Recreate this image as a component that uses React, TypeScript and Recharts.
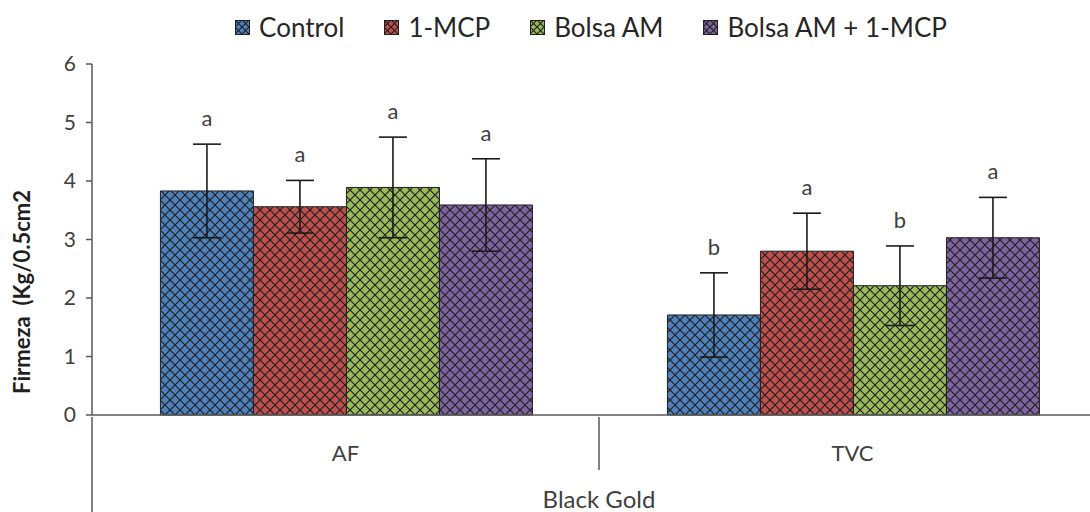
import React from "react";
import { BarChart, Bar, XAxis, YAxis, ErrorBar, LabelList } from "recharts";

const categories = ["AF", "TVC"];
const seriesNames = ["Control", "1-MCP", "Bolsa AM", "Bolsa AM + 1-MCP"];
const seriesColors = ["#4F81BD", "#C0504D", "#9BBB59", "#8064A2"];

const controlValues = [3.83, 1.71];
const mcpValues = [3.56, 2.8];
const bolsaValues = [3.89, 2.21];
const bolsaMcpValues = [3.59, 3.03];

const controlErrors = [0.8, 0.72];
const mcpErrors = [0.45, 0.65];
const bolsaErrors = [0.86, 0.68];
const bolsaMcpErrors = [0.79, 0.69];

const controlLetters = ["a", "b"];
const mcpLetters = ["a", "a"];
const bolsaLetters = ["a", "b"];
const bolsaMcpLetters = ["a", "a"];

const yTicks = [0, 1, 2, 3, 4, 5, 6];
const groupLabel = "Black Gold";
const yLabel = "Firmeza  (Kg/0.5cm2";

const CHART_W = 1106;
const CHART_H = 512;
const MARGIN = { top: 64, right: 0, left: 30, bottom: 0 };
const Y_AXIS_W = 62;
const X_AXIS_H = 97;
const PLOT_W = CHART_W - MARGIN.left - Y_AXIS_W - MARGIN.right;
const PLOT_H = CHART_H - MARGIN.top - MARGIN.bottom - X_AXIS_H;
const Y_MAX = 6;
const BAND = PLOT_W / categories.length;

const FONT = "Lato, 'Open Sans', sans-serif";
const TEXT = "#404040";
const AXIS = "#595959";

const allValues = [controlValues, mcpValues, bolsaValues, bolsaMcpValues];
const allErrors = [controlErrors, mcpErrors, bolsaErrors, bolsaMcpErrors];
const allLetters = [controlLetters, mcpLetters, bolsaLetters, bolsaMcpLetters];

const data = categories.map((name, i) => {
  const row: Record<string, string | number> = { name };
  allValues.forEach((vals, s) => {
    row[`v${s}`] = vals[i];
    row[`e${s}`] = allErrors[s][i];
    row[`l${s}`] = allLetters[s][i];
  });
  return row;
});

const Hatch = ({ id, color, size = 10 }: { id: string; color: string; size?: number }) => (
  <pattern id={id} width={size} height={size} patternUnits="userSpaceOnUse">
    <rect width={size} height={size} fill={color} />
    <path d={`M0,0 L${size},${size} M${size},0 L0,${size}`} stroke="#1f1f1f" strokeWidth={1.2} />
  </pattern>
);

const XTick = (props: any) => {
  const { x, y, payload, index } = props;
  return (
    <g>
      <text x={x} y={y + 44} textAnchor="middle" fill={TEXT} fontSize={22} fontFamily={FONT}>
        {payload.value}
      </text>
      {index === 0 && (
        <>
          <line x1={x + BAND / 2} x2={x + BAND / 2} y1={y} y2={y + 53} stroke={AXIS} strokeWidth={1.5} />
          <line x1={x - BAND / 2} x2={x - BAND / 2} y1={y} y2={CHART_H} stroke={AXIS} strokeWidth={1.5} />
        </>
      )}
    </g>
  );
};

const makeLetter = (s: number) => (props: any) => {
  const { x, y, width, value, index } = props;
  const err = allErrors[s][index];
  const top = y - (err * PLOT_H) / Y_MAX;
  return (
    <text x={x + width / 2} y={top - 18} textAnchor="middle" fill={TEXT} fontSize={22} fontFamily={FONT}>
      {value}
    </text>
  );
};

const YLabel = () => (
  <text
    x={30}
    y={292}
    transform="rotate(-90 30 292)"
    textAnchor="middle"
    fill="#1f1f1f"
    fontSize={22}
    fontWeight="bold"
    fontFamily={FONT}
    style={{ whiteSpace: "pre" }}
  >
    {yLabel}
  </text>
);

export default function App() {
  return (
    <div style={{ width: 1090, height: 512, overflow: "hidden", position: "relative", background: "#fff" }}>
      <style>{`body{margin:0;overflow:hidden}`}</style>
      <div
        style={{
          position: "absolute",
          top: 11,
          left: MARGIN.left + Y_AXIS_W,
          width: 998,
          display: "flex",
          justifyContent: "center",
          gap: 40,
          fontFamily: FONT,
          fontSize: 26,
          color: "#262626",
        }}
      >
        {seriesNames.map((n, i) => (
          <div key={n} style={{ display: "flex", alignItems: "center", gap: 9 }}>
            <svg width={15} height={15}>
              <defs>
                <Hatch id={`lg-${i}`} color={seriesColors[i]} size={7} />
              </defs>
              <rect x={0.5} y={0.5} width={14} height={14} fill={`url(#lg-${i})`} stroke="#1f1f1f" />
            </svg>
            <span>{n}</span>
          </div>
        ))}
      </div>
      <BarChart
        width={CHART_W}
        height={CHART_H}
        data={data}
        margin={MARGIN}
        barCategoryGap="13.5%"
        barGap={0}
      >
        <defs>
          {seriesColors.map((c, i) => (
            <Hatch key={c} id={`hatch-${i}`} color={c} />
          ))}
        </defs>
        <XAxis
          dataKey="name"
          height={X_AXIS_H}
          interval={0}
          tickLine={false}
          tickSize={0}
          tick={<XTick />}
          axisLine={{ stroke: AXIS, strokeWidth: 1.5 }}
          label={{ value: groupLabel, position: "insideBottom", offset: 4, fill: TEXT, fontSize: 24, fontFamily: FONT }}
        />
        <YAxis
          width={Y_AXIS_W}
          domain={[0, Y_MAX]}
          ticks={yTicks}
          interval={0}
          tickSize={6}
          tickMargin={10}
          tick={{ fill: TEXT, fontSize: 21, fontFamily: FONT }}
          tickLine={{ stroke: AXIS, strokeWidth: 1.5 }}
          axisLine={{ stroke: AXIS, strokeWidth: 1.5 }}
          label={<YLabel />}
        />
        {seriesNames.map((n, s) => (
          <Bar
            key={n}
            dataKey={`v${s}`}
            name={n}
            fill={`url(#hatch-${s})`}
            stroke="#1f1f1f"
            strokeWidth={1}
            isAnimationActive={false}
          >
            <ErrorBar dataKey={`e${s}`} width={14} stroke="#1a1a1a" strokeWidth={1.6} isAnimationActive={false} />
            <LabelList dataKey={`l${s}`} content={makeLetter(s)} />
          </Bar>
        ))}
      </BarChart>
    </div>
  );
}
